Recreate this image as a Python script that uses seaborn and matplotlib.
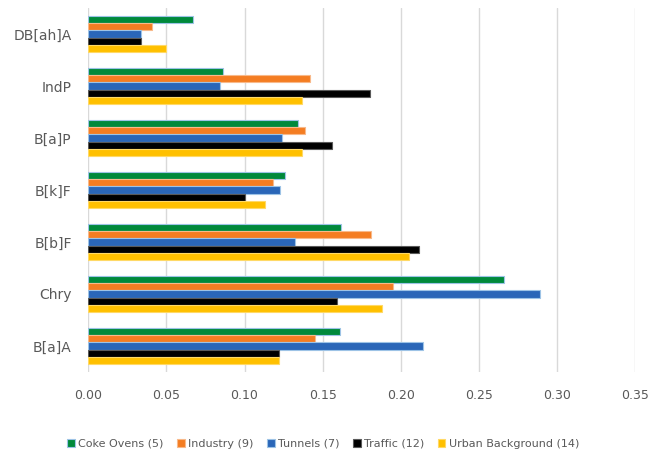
import numpy as np
import pandas as pd
import matplotlib
matplotlib.use("Agg")
import matplotlib.pyplot as plt
import seaborn as sns

compounds = ["DB[ah]A", "IndP", "B[a]P", "B[k]F", "B[b]F", "Chry", "B[a]A"]
sources = ["Coke Ovens (5)", "Industry (9)", "Tunnels (7)", "Traffic (12)", "Urban Background (14)"]

coke_ovens = [0.067, 0.086, 0.134, 0.126, 0.162, 0.266, 0.161]
industry = [0.041, 0.142, 0.139, 0.118, 0.181, 0.195, 0.145]
tunnels = [0.034, 0.084, 0.124, 0.123, 0.132, 0.289, 0.214]
traffic = [0.034, 0.180, 0.156, 0.100, 0.212, 0.159, 0.122]
urban_bg = [0.050, 0.137, 0.137, 0.113, 0.205, 0.188, 0.122]

colors = ["#00893B", "#F47D22", "#2A66B8", "#000000", "#FFC000"]
edges = ["#9DC3E6", "#F8B98A", "#9DC3E6", "#595959", "#FFD966"]

series = [coke_ovens, industry, tunnels, traffic, urban_bg]
df = pd.DataFrame({
    "compound": np.tile(compounds, len(sources)),
    "source": np.repeat(sources, len(compounds)),
    "value": np.concatenate(series),
})

sns.set_style("white")
fig, ax = plt.subplots(figsize=(6.53, 4.53), dpi=100)
fig.subplots_adjust(left=0.1353, right=0.9725, top=0.982, bottom=0.179)

sns.barplot(data=df, y="compound", x="value", hue="source", order=compounds,
            hue_order=sources, palette=colors, orient="h", width=0.7,
            errorbar=None, saturation=1, ax=ax, legend=False)

# light outlines like the original
for cont, ec in zip(ax.containers, edges):
    for p in cont:
        p.set_edgecolor(ec)
        p.set_linewidth(0.8)

ax.set_xlim(0, 0.35)
ax.set_ylim(6.5, -0.5)
ax.set_xticks(np.arange(0, 0.351, 0.05))
ax.set_xticklabels([f"{v:.2f}" for v in np.arange(0, 0.351, 0.05)])
ax.xaxis.grid(True, color="#D9D9D9", linewidth=1)
ax.set_axisbelow(True)
for s in ax.spines.values():
    s.set_visible(False)
ax.set_xlabel("")
ax.set_ylabel("")
ax.tick_params(axis="x", labelsize=9, labelcolor="#595959", length=0, pad=12)
ax.tick_params(axis="y", labelsize=10, labelcolor="#595959", length=0, pad=12)

handles = [plt.Rectangle((0, 0), 1, 1, facecolor=c, edgecolor=e, linewidth=0.8)
           for c, e in zip(colors, edges)]
fig.legend(handles, sources, loc="center", bbox_to_anchor=(0.495, 0.02), ncol=5,
           frameon=False, fontsize=8, handlelength=0.7, handleheight=0.7,
           handletextpad=0.3, columnspacing=1.2, labelcolor="#595959")

fig.savefig("out.png", dpi=100)
